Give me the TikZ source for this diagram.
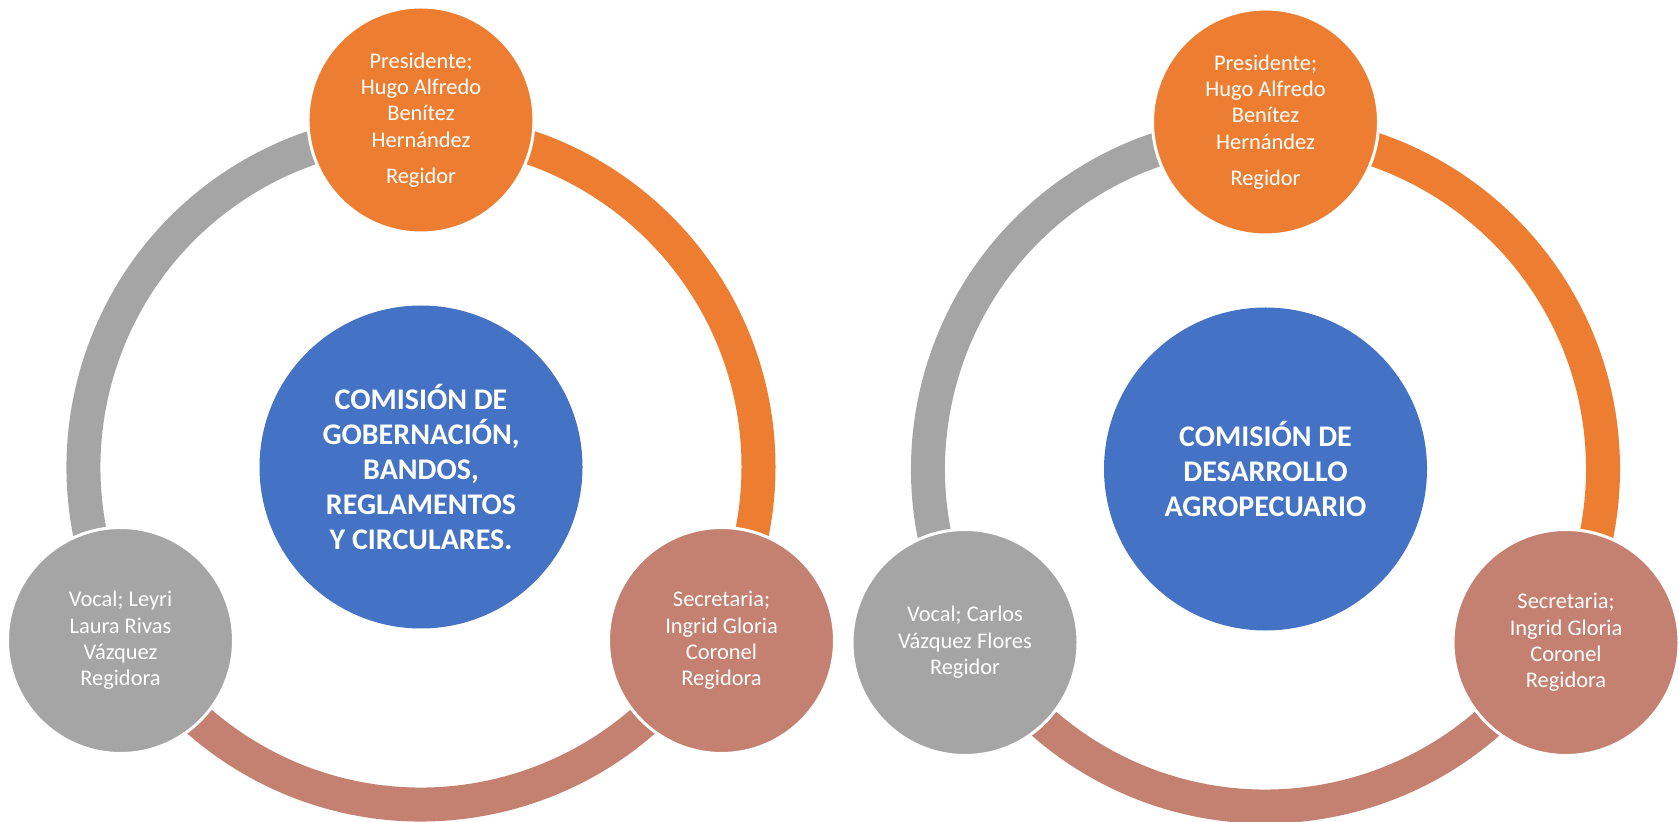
\documentclass[tikz,border=0pt]{standalone}
\usepackage{fontspec}
\setmainfont{Carlito}
\definecolor{orangeA}{HTML}{ED7D31}
\definecolor{greyA}{HTML}{A5A5A5}
\definecolor{blueA}{HTML}{4472C4}
\definecolor{roseA}{HTML}{C48070}
\begin{document}
\begin{tikzpicture}[x=0.5pt,y=0.5pt,
  member/.style={circle,draw=white,line width=1.5pt,minimum size=113pt,inner sep=0pt,
    align=center,text=white,font=\fontsize{11.2}{13.2}\selectfont},
  hub/.style={circle,fill=blueA,minimum size=161.5pt,inner sep=0pt,
    align=center,text=white,font=\fontsize{15}{17.5}\selectfont\bfseries},
  ring/.style={line width=17pt}]
\useasboundingbox (0,0) rectangle (1679,-822);
% the rings, one colour per member
\foreach \cx/\cy in {421/-467,1265.5/-469}{
	\draw[ring,orangeA] (\cx,\cy) ++(90:337.5) arc[start angle=90,end angle=-30,radius=337.5];
	\draw[ring,roseA] (\cx,\cy) ++(-30:337.5) arc[start angle=-30,end angle=-150,radius=337.5];
	\draw[ring,greyA] (\cx,\cy) ++(210:337.5) arc[start angle=210,end angle=90,radius=337.5];
}
% left commission
\node[hub] (comA) at (421,-467) {COMISIÓN DE\\GOBERNACIÓN,\\BANDOS,\\REGLAMENTOS\\Y CIRCULARES.};
\node[member,fill=orangeA] (presA) at (421,-120) {Presidente;\\Hugo Alfredo\\Benítez\\Hernández\\[5pt]Regidor};
\node[member,fill=roseA] (secA) at (721.5,-640.5) {Secretaria;\\Ingrid Gloria\\Coronel\\Regidora};
\node[member,fill=greyA] (vocA) at (120.5,-640.5) {Vocal; Leyri\\Laura Rivas\\Vázquez\\Regidora};
% right commission
\node[hub] (comB) at (1265.5,-469) {COMISIÓN DE\\DESARROLLO\\AGROPECUARIO};
\node[member,fill=orangeA] (presB) at (1265.5,-122) {Presidente;\\Hugo Alfredo\\Benítez\\Hernández\\[5pt]Regidor};
\node[member,fill=roseA] (secB) at (1566,-642.5) {Secretaria;\\Ingrid Gloria\\Coronel\\Regidora};
\node[member,fill=greyA] (vocB) at (965,-642.5) {Vocal; Carlos\\Vázquez Flores\\Regidor};
\end{tikzpicture}
\end{document}
